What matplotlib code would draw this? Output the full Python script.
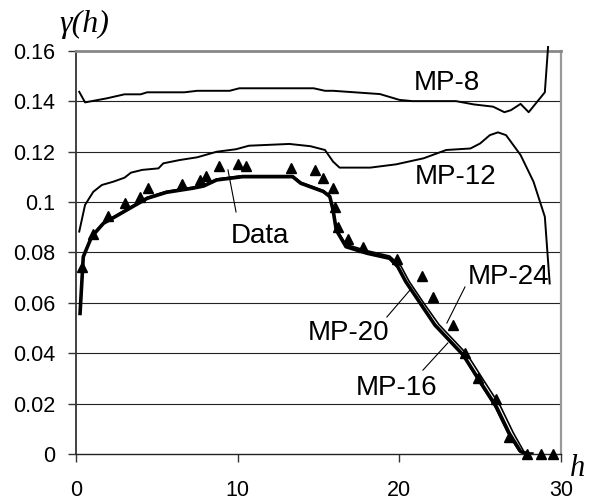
import matplotlib
matplotlib.use("Agg")
import matplotlib.pyplot as plt

# lag distances h and semivariogram values
data_h = [0.35, 1.03, 2.0, 3.03, 3.96, 4.47, 6.53, 7.67, 8.06, 8.86, 10.04, 10.5,
          13.27, 14.8, 15.29, 15.87, 16.0, 16.22, 16.84, 17.77, 19.87, 21.38, 22.06,
          23.33, 24.06, 24.88, 25.97, 26.8, 27.87, 28.74, 29.5]
data_g = [0.0744, 0.0873, 0.0945, 0.0995, 0.1022, 0.1055, 0.1072, 0.1088, 0.1102, 0.1145,
          0.1152, 0.1144, 0.1134, 0.1126, 0.1095, 0.1055, 0.0982, 0.0900, 0.0852, 0.0821,
          0.0773, 0.0708, 0.0625, 0.0512, 0.0400, 0.0300, 0.0217, 0.0069, 0.0, 0.0, 0.0]

mp8_h = [0.2, 0.56, 1.9, 3.0, 4.0, 4.4, 6.7, 7.5, 9.5, 10.1, 14.7, 15.4, 15.9, 18.8,
         20.0, 20.8, 23.5, 24.6, 25.8, 26.5, 26.9, 27.5, 28.0, 29.0, 29.2]
mp8_g = [0.1438, 0.1396, 0.1412, 0.1428, 0.1428, 0.1436, 0.1436, 0.1442, 0.1442, 0.1452,
         0.1452, 0.1442, 0.1442, 0.1429, 0.1406, 0.1401, 0.1401, 0.1388, 0.1379, 0.1357,
         0.1365, 0.1390, 0.1357, 0.1436, 0.1616]

mp12_h = [0.2, 0.56, 1.07, 1.6, 2.3, 3.0, 3.4, 4.1, 5.1, 5.4, 6.4, 7.5, 8.7, 9.9, 10.7,
          13.2, 14.5, 15.4, 15.9, 16.3, 18.2, 19.8, 21.5, 22.9, 24.4, 25.0, 25.6, 26.1,
          26.6, 27.5, 28.3, 29.0, 29.3]
mp12_g = [0.0883, 0.0989, 0.1041, 0.1068, 0.1081, 0.1097, 0.1117, 0.1128, 0.1134, 0.1154,
          0.1167, 0.1178, 0.1200, 0.1210, 0.1224, 0.1231, 0.1222, 0.1207, 0.1161, 0.1137,
          0.1137, 0.1150, 0.1174, 0.1207, 0.1213, 0.1233, 0.1266, 0.1277, 0.1266, 0.1187,
          0.1081, 0.0942, 0.0677]

mp16_h = [0.25, 0.45, 0.97, 1.7, 2.5, 3.5, 4.4, 5.6, 7.2, 7.9, 8.7, 10.3, 13.4, 13.9,
          15.3, 15.7, 15.9, 16.1, 16.7, 18.0, 19.4, 19.9, 20.4, 21.3, 22.2, 23.95, 25.0,
          26.0, 26.8, 27.5, 27.9, 28.2]
mp16_g = [0.0558, 0.0783, 0.0863, 0.0916, 0.0945, 0.0982, 0.1015, 0.1039, 0.1055, 0.1064,
          0.1088, 0.1101, 0.1101, 0.1075, 0.1042, 0.1022, 0.0969, 0.0889, 0.0823, 0.0797,
          0.0777, 0.0744, 0.0684, 0.0598, 0.0512, 0.0393, 0.0287, 0.0188, 0.0082, 0.0010,
          0.0, 0.0]

mp20_h = [0.25, 0.45, 0.97, 1.7, 2.5, 3.5, 4.4, 5.6, 7.2, 7.9, 8.7, 10.3, 13.4, 13.9,
          15.3, 15.7, 15.9, 16.1, 16.7, 18.0, 19.4, 19.9, 20.4, 21.3, 22.2, 23.9, 24.9,
          25.9, 26.7, 27.4, 27.8, 28.2]
mp20_g = [0.0560, 0.0785, 0.0865, 0.0918, 0.0947, 0.0984, 0.1017, 0.1041, 0.1057, 0.1066,
          0.1090, 0.1103, 0.1103, 0.1077, 0.1044, 0.1024, 0.0971, 0.0891, 0.0825, 0.0799,
          0.0779, 0.0746, 0.0686, 0.0600, 0.0515, 0.0396, 0.0290, 0.0190, 0.0085, 0.0012,
          0.0, 0.0]

mp24_h = [0.25, 0.45, 0.97, 1.7, 2.5, 3.5, 4.4, 5.6, 7.2, 7.9, 8.7, 10.3, 13.4, 13.9,
          15.3, 15.7, 15.9, 16.1, 16.7, 18.0, 19.4, 20.1, 20.6, 21.5, 22.45, 24.2, 25.25,
          26.25, 27.05, 27.7, 28.1]
mp24_g = [0.0560, 0.0785, 0.0866, 0.0919, 0.0948, 0.0986, 0.1019, 0.1043, 0.1059, 0.1068,
          0.1092, 0.1105, 0.1105, 0.1079, 0.1046, 0.1026, 0.0973, 0.0893, 0.0832, 0.0807,
          0.0786, 0.0746, 0.0686, 0.0600, 0.0514, 0.0395, 0.0289, 0.0190, 0.0084, 0.0010,
          0.0]

y_ticks = [0, 0.02, 0.04, 0.06, 0.08, 0.1, 0.12, 0.14, 0.16]
y_tick_labels = ["0", "0.02", "0.04", "0.06", "0.08", "0.1", "0.12", "0.14", "0.16"]
x_ticks = [0, 10, 20, 30]

# curve labels: text, text position, leader line (start, end) or None
labels = [
    ("MP-8", (22.94, 0.1473), None),
    ("MP-12", (23.5, 0.1100), None),
    ("Data", (11.38, 0.0866), ((9.9, 0.0961), (9.4, 0.1128))),
    ("MP-24", (26.78, 0.0703), ((24.06, 0.0663), (22.94, 0.0520))),
    ("MP-20", (16.88, 0.0480), ((19.23, 0.0544), (20.66, 0.0651))),
    ("MP-16", (19.85, 0.0262), ((21.46, 0.0333), (23.0, 0.0441))),
]

plt.rcParams['font.family'] = ['Liberation Sans', 'DejaVu Sans']

fig = plt.figure(figsize=(5.99, 5.01), dpi=100)
ax = fig.add_axes([76 / 599, 1 - 454 / 501, 485 / 599, 403 / 501])

for y in y_ticks[1:-1]:
    ax.axhline(y, color='#222222', lw=0.8, zorder=1)

ax.plot(mp8_h, mp8_g, color='black', lw=1.4, clip_on=False, zorder=3)
ax.plot(mp12_h, mp12_g, color='black', lw=1.4, zorder=3)
ax.plot(mp24_h, mp24_g, color='black', lw=1.2, zorder=3)
ax.plot(mp20_h, mp20_g, color='black', lw=1.2, zorder=3)
ax.plot(mp16_h, mp16_g, color='black', lw=2.6, zorder=3)
ax.plot(data_h, data_g, linestyle='none', marker='^', color='black', ms=6.5,
        clip_on=False, zorder=4)

for text, pos, leader in labels:
    ax.text(pos[0], pos[1], text, fontsize=20, ha='center', va='center', zorder=5)
    if leader:
        ax.plot([leader[0][0], leader[1][0]], [leader[0][1], leader[1][1]],
                color='black', lw=0.8, zorder=5)

ax.set_xlim(0, 30)
ax.set_ylim(0, 0.16)
ax.set_xticks(x_ticks)
ax.set_xticklabels([str(t) for t in x_ticks])
ax.set_yticks(y_ticks)
ax.set_yticklabels(y_tick_labels)
ax.tick_params(axis='both', direction='out', length=6, width=1, color='#333333',
               labelsize=15.5)
ax.tick_params(axis='x', pad=13)
ax.tick_params(axis='y', pad=9)

ax.spines['left'].set_color('#333333')
ax.spines['left'].set_linewidth(1.3)
ax.spines['bottom'].set_color('#222222')
ax.spines['bottom'].set_linewidth(1.0)
ax.spines['top'].set_color('#888888')
ax.spines['top'].set_linewidth(2.0)
ax.spines['right'].set_color('#999999')
ax.spines['right'].set_linewidth(1.6)

fig.text(84 / 599, 1 - 24 / 501, "\u03b3(h)", family='Liberation Serif', style='italic',
         fontsize=23, ha='center', va='center')
fig.text(578 / 599, 1 - 468 / 501, "h", family='Liberation Serif', style='italic',
         fontsize=22, ha='center', va='center')

fig.savefig("out.png", dpi=100)
